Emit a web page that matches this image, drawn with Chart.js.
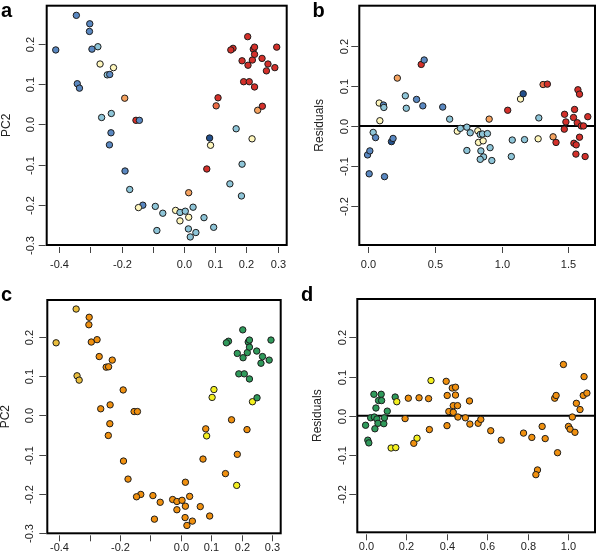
<!DOCTYPE html>
<html>
<head>
<meta charset="utf-8">
<script src="https://cdn.jsdelivr.net/npm/chart.js@4"></script>
<style>
  body { margin: 0; background: #fff; }
  #wrap { position: relative; width: 600px; height: 560px; }
  canvas { position: absolute; }
</style>
</head>
<body>
<div id="wrap">
  <canvas id="pa" width="300" height="280" style="left:0;top:0"></canvas>
  <canvas id="pb" width="300" height="280" style="left:300px;top:0"></canvas>
  <canvas id="pc" width="300" height="280" style="left:0;top:280px"></canvas>
  <canvas id="pd" width="300" height="280" style="left:300px;top:280px"></canvas>
</div>
<script>
// PCA scores (panels a and c share them)
const pcX = [-0.345, -0.302, -0.303, -0.295, -0.276, -0.411, -0.269, -0.226, -0.246, -0.238,
  -0.342, -0.335, -0.190, -0.264, -0.233, -0.154, -0.143, -0.234, -0.239, -0.189,
  -0.174, -0.132, -0.146, -0.092, -0.068, -0.087, -0.027, -0.013, 0.004, -0.013,
  0.015, 0.029, 0.015, 0.014, 0.020, 0.038, 0.064, 0.095, 0.073, 0.082,
  0.085, 0.103, 0.109, 0.147, 0.167, 0.186, 0.184, 0.218, 0.236, 0.251,
  0.157, 0.150, 0.204, 0.222, 0.226, 0.186, 0.219, 0.226, 0.205, 0.250,
  0.269, 0.297, 0.264, 0.291, 0.191, 0.209, 0.226];
const pcY = [0.271, 0.250, 0.231, 0.187, 0.193, 0.185, 0.150, 0.141, 0.123, 0.124,
  0.101, 0.090, 0.065, 0.017, 0.027, 0.010, 0.010, -0.021, -0.051, -0.116,
  -0.162, -0.201, -0.207, -0.204, -0.221, -0.264, -0.214, -0.219, -0.216, -0.240,
  -0.231, -0.206, -0.170, -0.260, -0.280, -0.269, -0.232, -0.256, -0.111, -0.034,
  -0.052, 0.046, 0.066, -0.148, -0.011, -0.099, -0.178, -0.036, 0.035, 0.045,
  0.189, 0.185, 0.218, 0.187, 0.192, 0.158, 0.160, 0.174, 0.147, 0.164,
  0.150, 0.192, 0.133, 0.141, 0.106, 0.106, 0.093];
// group of each point in panel a / panel c
const groupA = ['B','B','B','B','L','B','Y','Y','L','B',
  'B','B','O','L','L','R','B','B','B','B',
  'L','B','Y','L','L','L','Y','L','L','Y',
  'Y','L','O','L','L','L','L','L','R','D',
  'Y','T','R','L','L','L','L','Y','O','R',
  'R','R','R','R','R','R','R','R','R','R',
  'R','R','R','R','R','R','R'];
const groupC = ['Gd','Or','Or','Or','Or','Gd','Or','Or','Or','Or',
  'Gd','Gd','Or','Or','Or','Or','Or','Or','Or','Or',
  'Or','Or','Or','Or','Or','Or','Or','Or','Or','Or',
  'Or','Or','Or','Or','Or','Or','Or','Or','Or','Or',
  'Yw','Yw','Yw','Or','Or','Or','Yw','Or','Yw','G',
  'G','G','G','G','G','G','G','G','G','G',
  'G','G','G','G','G','G','G'];

// residuals, panel b
const resBX = [-0.005, 0.012, 0.007, 0.037, 0.055, 0.082, 0.087, 0.114, 0.117, 0.122,
  0.174, 0.186, 0.218, 0.278, 0.285, 0.362, 0.397, 0.419, 0.409, 0.558,
  0.610, 0.667, 0.690, 0.739, 0.739, 0.764, 0.821, 0.826, 0.839, 0.856,
  0.861, 0.844, 0.864, 0.839, 0.893, 0.913, 0.926, 0.906, 1.045, 1.079,
  1.072, 1.141, 1.161, 1.171, 1.278, 1.273, 1.310, 1.342, 1.385, 1.407,
  1.469, 1.471, 1.481, 1.546, 1.538, 1.541, 1.558, 1.556, 1.566, 1.571,
  1.583, 1.583, 1.596, 1.613, 1.625, 1.645];
const resBY = [-0.072, -0.062, -0.119, -0.016, -0.029, 0.057, 0.013, 0.052, 0.046, -0.126,
  -0.039, -0.031, 0.119, 0.075, 0.044, 0.066, 0.153, 0.164, 0.050, 0.047,
  0.017, -0.013, -0.006, -0.003, -0.061, -0.017, -0.012, -0.041, -0.021, -0.020,
  -0.037, -0.062, -0.077, -0.083, -0.019, -0.054, -0.086, 0.017, 0.039, -0.035,
  -0.076, 0.067, 0.080, -0.034, 0.020, -0.032, 0.103, 0.104, -0.027, -0.041,
  -0.008, 0.029, 0.010, 0.041, 0.021, -0.043, -0.047, -0.070, 0.008, 0.090,
  0.079, -0.028, 0.000, 0.000, -0.076, 0.023];
const groupB = ['B','B','B','L','B','Y','Y','B','L','B',
  'D','B','O','L','L','B','R','B','B','B',
  'L','Y','L','L','L','L','Y','Y','L','L',
  'Y','L','L','L','L','L','L','O','R','L',
  'L','Y','D','L','L','Y','T','R','O','R',
  'R','R','R','R','R','R','R','R','R','R',
  'R','R','R','R','R','R'];

// residuals, panel d
const resDX = [0.000, 0.011, 0.016, 0.025, 0.041, 0.043, 0.046, 0.051, 0.056, 0.061,
  0.064, 0.077, 0.079, 0.090, 0.093, 0.107, 0.126, 0.149, 0.146, 0.154,
  0.195, 0.211, 0.238, 0.254, 0.264, 0.315, 0.311, 0.323, 0.398, 0.403,
  0.402, 0.411, 0.428, 0.433, 0.433, 0.444, 0.444, 0.454, 0.456, 0.493,
  0.513, 0.515, 0.556, 0.569, 0.618, 0.670, 0.780, 0.821, 0.872, 0.849,
  0.841, 0.887, 0.934, 0.941, 0.948, 0.977, 1.002, 1.010, 1.021, 1.034,
  1.041, 1.059, 1.079, 1.075, 1.093];
const resDY = [-0.024, -0.062, -0.069, -0.005, 0.055, -0.003, -0.033, 0.020, -0.008, -0.019,
  0.039, 0.055, 0.039, -0.020, -0.005, 0.012, -0.082, -0.081, 0.048, 0.036,
  -0.007, 0.045, -0.070, -0.057, 0.046, -0.035, 0.044, 0.090, 0.088, 0.052,
  -0.025, 0.011, 0.071, 0.026, 0.009, 0.073, 0.053, 0.026, -0.003, -0.005,
  0.038, -0.021, -0.019, -0.009, -0.038, -0.062, -0.044, -0.055, -0.027, -0.138,
  -0.150, -0.058, 0.045, 0.052, -0.094, 0.131, -0.027, -0.034, -0.003, -0.042,
  0.032, 0.016, 0.100, 0.052, 0.058];
const groupD = ['G','G','G','G','G','G','G','G','G','G',
  'G','G','G','G','G','G','Yw','Yw','G','Yw',
  'Or','Or','Or','Yw','Or','Or','Or','Yw','Or','Or',
  'Or','Or','Or','Or','Or','Or','Or','Or','Or','Or',
  'Or','Or','Or','Or','Or','Or','Or','Or','Or','Or',
  'Or','Or','Or','Or','Or','Or','Or','Or','Or','Or',
  'Or','Or','Or','Or','Or'];

// axis ticks and labels
const pcXTicks = [-0.4, -0.3, -0.2, -0.1, 0.0, 0.1, 0.2, 0.3];
const pcXLabels = ['-0.4', '', '-0.2', '', '0.0', '0.1', '0.2', '0.3'];
const pcYTicks = [-0.3, -0.2, -0.1, 0.0, 0.1, 0.2];
const pcYLabels = ['-0.3', '-0.2', '-0.1', '0.0', '0.1', '0.2'];
const resYTicks = [-0.2, -0.1, 0.0, 0.1, 0.2];
const resYLabels = ['-0.2', '-0.1', '0.0', '0.1', '0.2'];
const bXTicks = [0, 0.5, 1.0, 1.5];
const bXLabels = ['0.0', '0.5', '1.0', '1.5'];
const dXTicks = [0, 0.2, 0.4, 0.6, 0.8, 1.0];
const dXLabels = ['0.0', '0.2', '0.4', '0.6', '0.8', '1.0'];

const palette = {
  R: '#d4302a', T: '#ec6c45', O: '#f5a25f', Y: '#fff7bd', L: '#8ec5d8', B: '#5a88c1', D: '#23508b',
  Or: '#f0900f', Gd: '#e9bd3c', Yw: '#f4f01f', G: '#2f9a5b'
};
const FONT = '"Liberation Sans", Arial, Helvetica, sans-serif';

// R-style frame: box, outward ticks, rotated y labels
const rFrame = {
  id: 'rFrame',
  beforeDatasetsDraw(chart, args, o) {
    if (!o.zeroLine) return;
    const ctx = chart.ctx, a = chart.chartArea;
    const y0 = chart.scales.y.getPixelForValue(0);
    ctx.save();
    ctx.strokeStyle = '#000';
    ctx.lineWidth = 2;
    ctx.beginPath();
    ctx.moveTo(a.left, y0);
    ctx.lineTo(a.right, y0);
    ctx.stroke();
    ctx.restore();
  },
  afterDraw(chart, args, o) {
    const ctx = chart.ctx, a = chart.chartArea;
    const sx = chart.scales.x, sy = chart.scales.y;
    ctx.save();
    ctx.strokeStyle = '#000';
    ctx.lineWidth = 2;
    ctx.strokeRect(a.left, a.top, a.right - a.left, a.bottom - a.top);

    ctx.strokeStyle = '#444';
    ctx.lineWidth = 1;
    ctx.fillStyle = '#222';
    ctx.font = '11px ' + FONT;
    ctx.textAlign = 'center';
    ctx.textBaseline = 'middle';
    o.xTicks.forEach((v, i) => {
      const x = Math.round(sx.getPixelForValue(v)) + 0.5;
      ctx.beginPath();
      ctx.moveTo(x, a.bottom + 2);
      ctx.lineTo(x, a.bottom + 8);
      ctx.stroke();
      if (o.xLabels[i]) ctx.fillText(o.xLabels[i], x, a.bottom + o.xLabOff);
    });
    ctx.textBaseline = 'alphabetic';
    o.yTicks.forEach((v, i) => {
      const y = Math.round(sy.getPixelForValue(v)) + 0.5;
      ctx.beginPath();
      ctx.moveTo(a.left - 8, y);
      ctx.lineTo(a.left - 1, y);
      ctx.stroke();
      if (o.yLabels[i]) {
        ctx.save();
        ctx.translate(a.left - o.yLabGap, y);
        ctx.rotate(-Math.PI / 2);
        ctx.fillText(o.yLabels[i], 0, 0);
        ctx.restore();
      }
    });
    ctx.font = '12px ' + FONT;
    ctx.save();
    ctx.translate(a.left - o.yTitleGap, (a.top + a.bottom) / 2);
    ctx.rotate(-Math.PI / 2);
    ctx.fillText(o.yTitle, 0, 0);
    ctx.restore();

    ctx.fillStyle = '#000';
    ctx.font = 'bold 20px ' + FONT;
    ctx.textAlign = 'left';
    ctx.fillText(o.letter, o.letterX, o.letterY);
    ctx.restore();
  }
};

function makePanel(id, xs, ys, groups, spec) {
  const pts = xs.map((x, i) => ({ x: x, y: ys[i] }));
  return new Chart(document.getElementById(id), {
    type: 'scatter',
    data: {
      datasets: [{
        data: pts,
        backgroundColor: groups.map(g => palette[g]),
        borderColor: '#1c1c1c',
        borderWidth: 1,
        pointRadius: 3.2
      }]
    },
    options: {
      responsive: false,
      animation: false,
      events: [],
      layout: { padding: spec.padding },
      scales: {
        x: { type: 'linear', display: false, min: spec.xMin, max: spec.xMax },
        y: { type: 'linear', display: false, min: spec.yMin, max: spec.yMax }
      },
      plugins: {
        legend: { display: false },
        tooltip: { enabled: false },
        rFrame: spec.frame
      }
    },
    plugins: [rFrame]
  });
}

makePanel('pa', pcX, pcY, groupA, {
  padding: { left: 46.7, right: 13.3, top: 5.7, bottom: 35 },
  xMin: -0.440, xMax: 0.329, yMin: -0.300, yMax: 0.295,
  frame: { xTicks: pcXTicks, xLabels: pcXLabels, yTicks: pcYTicks, yLabels: pcYLabels,
    xLabOff: 19.5, yLabGap: 13, yTitleGap: 37, yTitle: 'PC2', zeroLine: false,
    letter: 'a', letterX: 1, letterY: 17 }
});
makePanel('pb', resBX, resBY, groupB, {
  padding: { left: 59.3, right: 3.3, top: 5.7, bottom: 35 },
  xMin: -0.067, xMax: 1.699, yMin: -0.296, yMax: 0.299,
  frame: { xTicks: bXTicks, xLabels: bXLabels, yTicks: resYTicks, yLabels: resYLabels,
    xLabOff: 19.5, yLabGap: 11.5, yTitleGap: 36, yTitle: 'Residuals', zeroLine: true,
    letter: 'b', letterX: 12.5, letterY: 17 }
});
makePanel('pc', pcX, pcY, groupC, {
  padding: { left: 47.3, right: 19.3, top: 20, bottom: 26.7 },
  xMin: -0.440, xMax: 0.329, yMin: -0.300, yMax: 0.294,
  frame: { xTicks: pcXTicks, xLabels: pcXLabels, yTicks: pcYTicks, yLabels: pcYLabels,
    xLabOff: 14.5, yLabGap: 14, yTitleGap: 38.5, yTitle: 'PC2', zeroLine: false,
    letter: 'c', letterX: 1, letterY: 21 }
});
makePanel('pd', resDX, resDY, groupD, {
  padding: { left: 57.3, right: 4, top: 19, bottom: 27.7 },
  xMin: -0.041, xMax: 1.133, yMin: -0.297, yMax: 0.298,
  frame: { xTicks: dXTicks, xLabels: dXLabels, yTicks: resYTicks, yLabels: resYLabels,
    xLabOff: 14.5, yLabGap: 11, yTitleGap: 36, yTitle: 'Residuals', zeroLine: true,
    letter: 'd', letterX: 1, letterY: 21 }
});
</script>
</body>
</html>
